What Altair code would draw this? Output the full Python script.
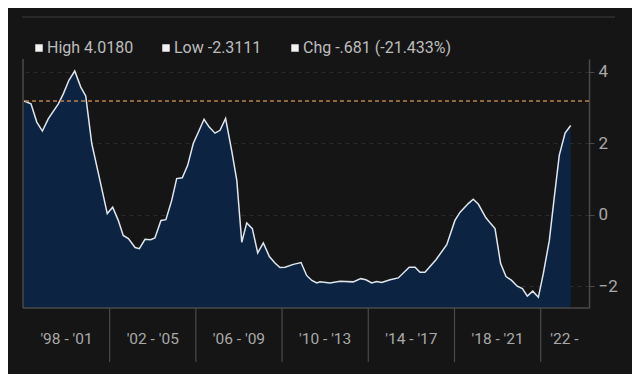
import altair as alt
import pandas as pd

# ---- data ----
years = [1998.03, 1998.35, 1998.62, 1998.88, 1999.15, 1999.62, 1999.85, 2000.11, 2000.38, 2000.66,
         2000.89, 2001.17, 2001.55, 2001.89, 2002.14, 2002.40, 2002.63, 2002.87, 2003.18, 2003.38,
         2003.64, 2003.90, 2004.10, 2004.38, 2004.61, 2004.88, 2005.11, 2005.37, 2005.62, 2005.88,
         2006.14, 2006.38, 2006.62, 2006.89, 2007.12, 2007.38, 2007.66, 2007.90, 2008.13, 2008.36,
         2008.62, 2008.87, 2009.13, 2009.41, 2009.67, 2009.90, 2010.14, 2010.52, 2010.88, 2011.14,
         2011.38, 2011.61, 2011.76, 2012.22, 2012.69, 2013.30, 2013.65, 2013.89, 2014.16, 2014.39,
         2014.62, 2015.01, 2015.39, 2015.90, 2016.17, 2016.40, 2016.63, 2017.14, 2017.64, 2018.02,
         2018.26, 2018.64, 2018.87, 2019.11, 2019.45, 2019.68, 2019.88, 2020.14, 2020.39, 2020.65,
         2020.91, 2021.15, 2021.38, 2021.63, 2021.89, 2022.12, 2022.40, 2022.63, 2022.86, 2023.13,
         2023.39]
values = [3.18, 3.10, 2.59, 2.34, 2.68, 3.10, 3.38, 3.76, 4.018, 3.57,
          3.32, 1.99, 0.96, 0.03, 0.21, -0.16, -0.58, -0.67, -0.92, -0.95,
          -0.69, -0.70, -0.65, -0.16, -0.14, 0.40, 1.01, 1.03, 1.38, 1.99,
          2.34, 2.67, 2.45, 2.28, 2.36, 2.69, 1.80, 0.96, -0.77, -0.23,
          -0.39, -1.07, -0.79, -1.17, -1.35, -1.48, -1.47, -1.39, -1.34, -1.70,
          -1.84, -1.91, -1.88, -1.91, -1.86, -1.88, -1.79, -1.82, -1.91, -1.87,
          -1.90, -1.82, -1.77, -1.47, -1.47, -1.61, -1.61, -1.26, -0.84, -0.16,
          0.07, 0.31, 0.43, 0.29, -0.08, -0.25, -0.39, -1.37, -1.73, -1.84,
          -2.00, -2.07, -2.28, -2.14, -2.3111, -1.65, -0.72, 0.49, 1.66, 2.28,
          2.496]

start_value = 3.177
band_centers = [2000, 2004, 2008, 2012, 2016, 2020, 2023.1]
band_labels = ["'98 - '01", "'02 - '05", "'06 - '09", "'10 - '13", "'14 - '17", "'18 - '21", "'22 -"]
separators = [2002, 2006, 2010, 2014, 2018, 2022]
y_ticks = [-2, 0, 2, 4]
legend_texts = ["High 4.0180", "Low -2.3111", "Chg -.681 (-21.433%)"]

# ---- layout / style ----
W, H = 566, 249
X_DOM = [1997.98, 2024.24]
Y_DOM = [-2.611, 4.355]
BG = "#151515"
AREA = "#0c2441"
LINE = "#dfe6ee"
GRAY = "#4a4a4a"
TXT = "#a9a9a9"
FONT = "Roboto"

df = pd.DataFrame({"year": years, "value": values})
xs = alt.Scale(domain=X_DOM, nice=False, zero=False)
ys = alt.Scale(domain=Y_DOM, nice=False, zero=False)

area = alt.Chart(df).mark_area(color=AREA, opacity=1).encode(
    x=alt.X("year:Q", scale=xs, axis=None),
    y=alt.Y("value:Q", scale=ys,
            axis=alt.Axis(orient="right", values=y_ticks, grid=True, gridDash=[4, 4],
                          gridColor="#2c2c2c", gridWidth=1, domainColor=GRAY, domainWidth=1.5,
                          tickColor=GRAY, tickSize=5, labelColor=TXT, labelFontSize=17,
                          labelFont=FONT, labelPadding=4, title=None)),
    y2=alt.datum(Y_DOM[0]),
)

line = alt.Chart(df).mark_line(color=LINE, strokeWidth=1.5).encode(
    x=alt.X("year:Q", scale=xs),
    y=alt.Y("value:Q", scale=ys),
)

ref = alt.Chart(pd.DataFrame({"v": [start_value]})).mark_rule(
    color="#b9814b", strokeDash=[4, 3], strokeWidth=1.5
).encode(y=alt.Y("v:Q", scale=ys))

# frame: left and bottom borders
left_border = alt.Chart(pd.DataFrame({"a": [0]})).mark_rule(color=GRAY, strokeWidth=1.5).encode(
    x=alt.value(0), y=alt.value(0), y2=alt.value(H))
bottom_border = alt.Chart(pd.DataFrame({"a": [0]})).mark_rule(color=GRAY, strokeWidth=1.5).encode(
    x=alt.value(0), x2=alt.value(W), y=alt.value(H))
top_line = alt.Chart(pd.DataFrame({"a": [0]})).mark_rule(color="#2f2f2f", strokeWidth=1.5).encode(
    x=alt.value(-1), x2=alt.value(592), y=alt.value(-42))

sep = alt.Chart(pd.DataFrame({"year": separators})).mark_rule(color=GRAY, strokeWidth=1.2).encode(
    x=alt.X("year:Q", scale=xs), y=alt.value(H), y2=alt.value(H + 54))

xlabels = alt.Chart(pd.DataFrame({"year": band_centers, "label": band_labels})).mark_text(
    color=TXT, fontSize=15.5, font=FONT, baseline="middle", align="center"
).encode(x=alt.X("year:Q", scale=xs), y=alt.value(H + 31), text="label:N")

# legend header
leg_x = [16, 143, 272]
leg_df = pd.DataFrame({"label": legend_texts, "px": leg_x})
leg_sq = alt.Chart(leg_df).mark_square(color="#f2f2f2", size=56, opacity=1).encode(
    x=alt.X("px:Q", scale=None), y=alt.value(-11))
leg_txt = alt.Chart(leg_df).mark_text(
    color="#bdbdbd", fontSize=16, font=FONT, align="left", baseline="middle", dx=8
).encode(x=alt.X("px:Q", scale=None), y=alt.value(-11), text="label:N")

chart = alt.layer(area, line, ref, left_border, bottom_border, top_line, sep, xlabels,
                  leg_sq, leg_txt).properties(
    width=W, height=H,
    background=BG,
    padding={"left": 15, "top": 51, "right": 43, "bottom": 66},
    autosize=alt.AutoSizeParams(type="none"),
).configure_view(stroke=None)

chart.save("out.html", embed_options={"renderer": "svg", "actions": False})
